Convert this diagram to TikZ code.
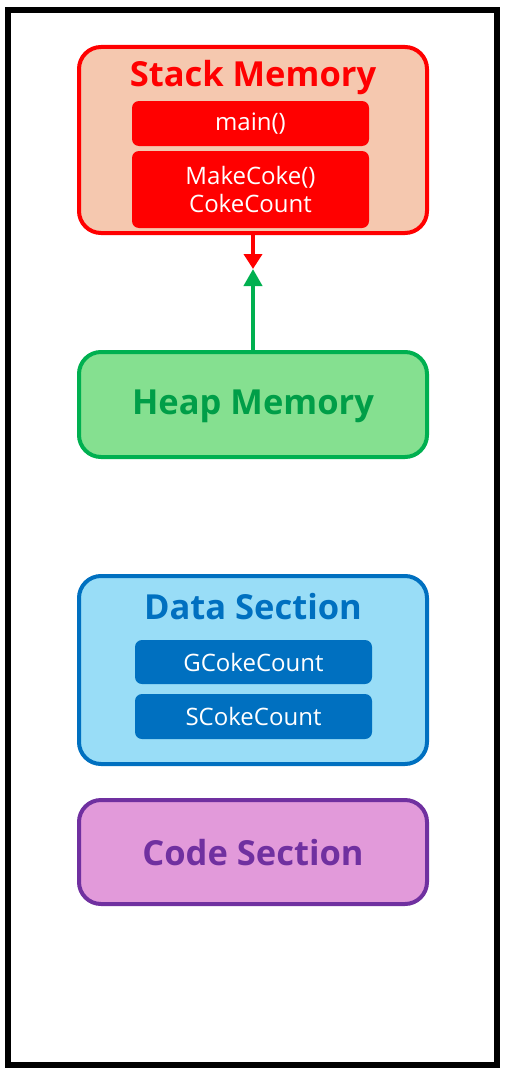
\documentclass[tikz,border=0pt]{standalone}
\usepackage{fontspec}
\setmainfont{Open Sans}
\usetikzlibrary{arrows.meta}

\definecolor{stackred}{RGB}{255,0,0}
\definecolor{stackfill}{RGB}{245,200,175}
\definecolor{heapgreen}{RGB}{0,176,80}
\definecolor{heapfill}{RGB}{133,224,144}
\definecolor{datablue}{RGB}{0,112,192}
\definecolor{datafill}{RGB}{153,221,247}
\definecolor{codepurple}{RGB}{112,48,160}
\definecolor{codefill}{RGB}{226,154,218}

\tikzset{
  segment/.style={draw, rectangle, rounded corners=22pt, line width=4pt, minimum width=348pt, minimum height=#1, inner sep=0pt},
  segtitle/.style={font=\fontsize{34.5}{38}\selectfont\bfseries, inner sep=0pt},
  slot/.style={rectangle, rounded corners=7pt, minimum width=237pt, minimum height=#1, text=white, align=center, inner sep=0pt, font=\fontsize{24}{28}\selectfont},
}

\begin{document}
\begin{tikzpicture}[x=1pt, y=-1pt]
  \useasboundingbox (0,0) rectangle (507,1073);
  \draw[line width=6pt] (8,10) rectangle (497,1065);

  % the four memory segments
  \node[segment=186pt, stackred, fill=stackfill] (stack) at (253,140) {};
  \node[segment=105pt, heapgreen, fill=heapfill] (heap) at (253,404.5) {};
  \node[segment=188pt, datablue, fill=datafill] (data) at (253,670) {};
  \node[segment=104pt, codepurple, fill=codefill] (code) at (253,852) {};

  \node[segtitle, text=stackred] (stacktitle) at (253,78) {Stack Memory};
  \node[segtitle, text=heapgreen!90!black] (heaptitle) at (253,406) {Heap Memory};
  \node[segtitle, text=datablue] (datatitle) at (253,607) {Data Section};
  \node[segtitle, text=codepurple] (codetitle) at (253,853) {Code Section};

  % frames and variables
  \node[slot=45pt, fill=stackred] (mainframe) at (250.5,123.5) {main()};
  \node[slot=77pt, fill=stackred] (cokeframe) at (250.5,189.5) {MakeCoke()\\CokeCount};
  \node[slot=44pt, fill=datablue] (gcount) at (253.5,662) {GCokeCount};
  \node[slot=45pt, fill=datablue] (scount) at (253.5,716.5) {SCokeCount};

  \coordinate (meet) at (253,269);
  \draw[stackred, line width=4pt, -{Triangle[length=15pt,width=18pt]}] (stack.south) -- (meet);
  \draw[heapgreen, line width=4pt, -{Triangle[length=17pt,width=18pt]}] (heap.north) -- (meet);
\end{tikzpicture}
\end{document}
